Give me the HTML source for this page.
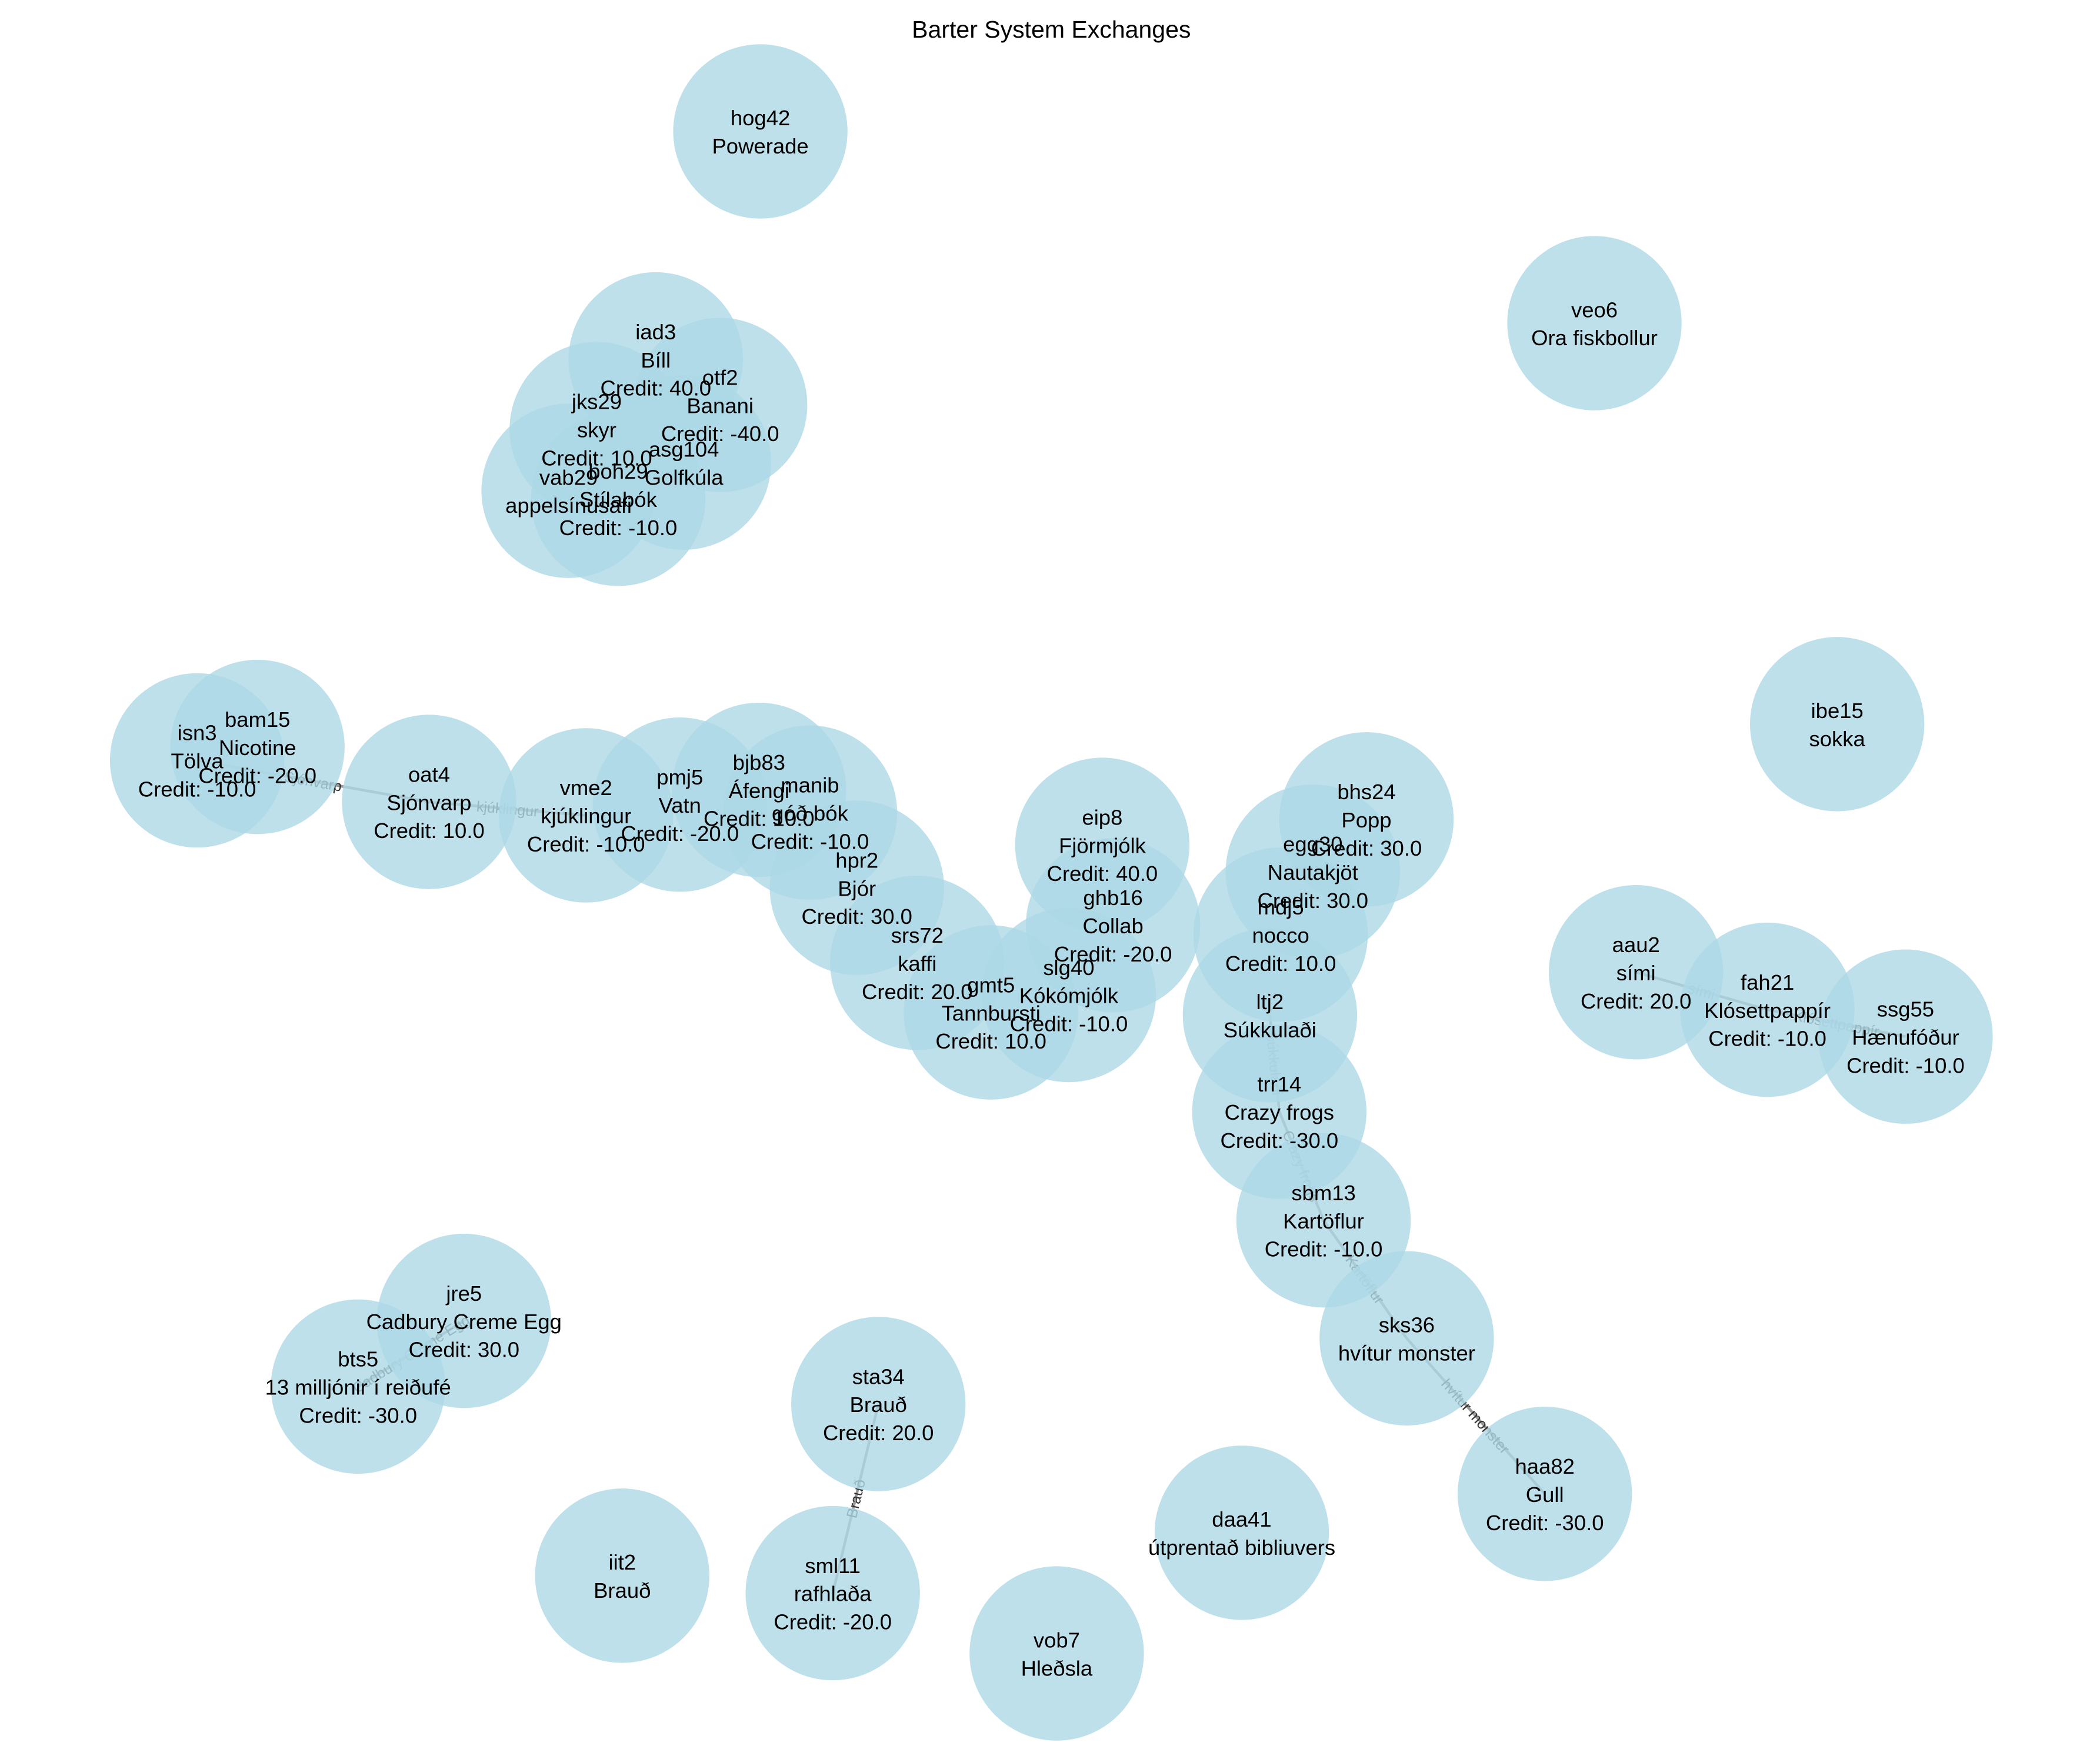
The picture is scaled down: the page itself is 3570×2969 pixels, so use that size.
<!DOCTYPE html>
<html><head><meta charset="utf-8">
<style>
html,body{margin:0;padding:0;background:#fff;}
svg{display:block;}
text{font-family:"Liberation Sans","DejaVu Sans",sans-serif;}
</style></head>
<body>
<svg id="chart" width="3570" height="2969" viewBox="0 0 1566 1302" preserveAspectRatio="none" xmlns="http://www.w3.org/2000/svg">
<rect width="1566" height="1302" fill="#fff"/>
<text x="784" y="28" text-anchor="middle" font-size="18" fill="#000">Barter System Exchanges</text>
<g id="edges"></g>
<g id="nodes"></g>
<g id="labels"></g>
</svg>
<script>
const nodeIds = ["hog42","veo6","iad3","otf2","jks29","asg104","boh29","vab29","ibe15","isn3","bam15","oat4","vme2","pmj5","bjb83","manib","hpr2","eip8","bhs24","egg30","ghb16","mdj5","srs72","gmt5","slg40","aau2","fah21","ssg55","ltj2","trr14","sbm13","jre5","bts5","sks36","sta34","haa82","daa41","iit2","sml11","vob7"];
const nodeItems = ["Powerade","Ora fiskbollur","Bíll","Banani","skyr","Golfkúla","Stílabók","appelsínusafi","sokka","Tölva","Nicotine","Sjónvarp","kjúklingur","Vatn","Áfengi","góð bók","Bjór","Fjörmjólk","Popp","Nautakjöt","Collab","nocco","kaffi","Tannbursti","Kókómjólk","sími","Klósettpappír","Hænufóður","Súkkulaði","Crazy frogs","Kartöflur","Cadbury Creme Egg","13 milljónir í reiðufé","hvítur monster","Brauð","Gull","útprentað bibliuvers","Brauð","rafhlaða","Hleðsla"];
const nodeCredits = [null,null,40,-40,10,null,-10,null,null,-10,-20,10,-10,-20,10,-10,30,40,30,30,-20,10,20,10,-10,20,-10,-10,null,-30,-10,30,-30,null,20,-30,null,null,-20,null];
const nodeX = [567,1189,489,537,445,510,461,424,1370,147,192,320,437,507,566,604,639,822,1019,979,830,955,684,739,797,1220,1318,1421,947,954,987,346,267,1049,655,1152,926,464,621,788];
const nodeY = [98,241,268,302,320,345,372,366,540,567,557,598,608,600,589,606,662,630,611,650,690,697,718,755,742,725,753,773,757,829,910,985,1034,998,1047,1114,1143,1175,1188,1233];
const edgeFrom = ["oat4","vme2","sta34","sks36","sbm13","trr14","ltj2","jre5","aau2","fah21"];
const edgeTo = ["isn3","oat4","sml11","haa82","sks36","sbm13","trr14","bts5","fah21","ssg55"];
const edgeLabels = ["Sjónvarp","kjúklingur","Brauð","hvítur monster","Kartöflur","Crazy frogs","Súkkulaði","Cadbury Creme Egg","sími","Klósettpappír"];

const NS="http://www.w3.org/2000/svg";
const R=65;
const eg=document.getElementById('edges'), ng=document.getElementById('nodes'), lg=document.getElementById('labels');
function idx(id){return nodeIds.indexOf(id);}
edgeFrom.forEach((f,i)=>{
  const a=idx(f), b=idx(edgeTo[i]);
  const x1=nodeX[a],y1=nodeY[a],x2=nodeX[b],y2=nodeY[b];
  const l=document.createElementNS(NS,'line');
  
  
  l.setAttribute('x1',x1);l.setAttribute('y1',y1);l.setAttribute('x2',x2);l.setAttribute('y2',y2);
  l.setAttribute('stroke','#999');l.setAttribute('stroke-width','2');
  eg.appendChild(l);
  const t=document.createElementNS(NS,'text');
  
  
  const mx=(x1+x2)/2,my=(y1+y2)/2;
  let ang=Math.atan2(y2-y1,x2-x1)*180/Math.PI;
  if(ang>90)ang-=180; if(ang<-90)ang+=180;
  t.setAttribute('x',mx);t.setAttribute('y',my+4);
  t.setAttribute('text-anchor','middle');t.setAttribute('font-size','11');t.setAttribute('fill','#333');
  t.setAttribute('transform','rotate('+ang+' '+mx+' '+my+')');
  t.textContent=edgeLabels[i];
  eg.appendChild(t);
});
nodeIds.forEach((id,i)=>{
  const c=document.createElementNS(NS,'circle');
  
  
  c.setAttribute('cx',nodeX[i]);c.setAttribute('cy',nodeY[i]);c.setAttribute('r',R);
  c.setAttribute('fill','#add8e6');c.setAttribute('fill-opacity','0.8');
  ng.appendChild(c);
  const lines=[id,nodeItems[i]];
  if(nodeCredits[i]!==null) lines.push('Credit: '+nodeCredits[i].toFixed(1));
  const t=document.createElementNS(NS,'text');
  
  
  t.setAttribute('text-anchor','middle');t.setAttribute('font-size','16');t.setAttribute('fill','#000');
  const start=nodeY[i]-(lines.length-1)*10.5+6;
  lines.forEach((s,k)=>{
    const ts=document.createElementNS(NS,'tspan');
    ts.setAttribute('x',nodeX[i]);ts.setAttribute('y',start+k*21);
    ts.textContent=s;t.appendChild(ts);
  });
  lg.appendChild(t);
});
</script>
</body></html>
